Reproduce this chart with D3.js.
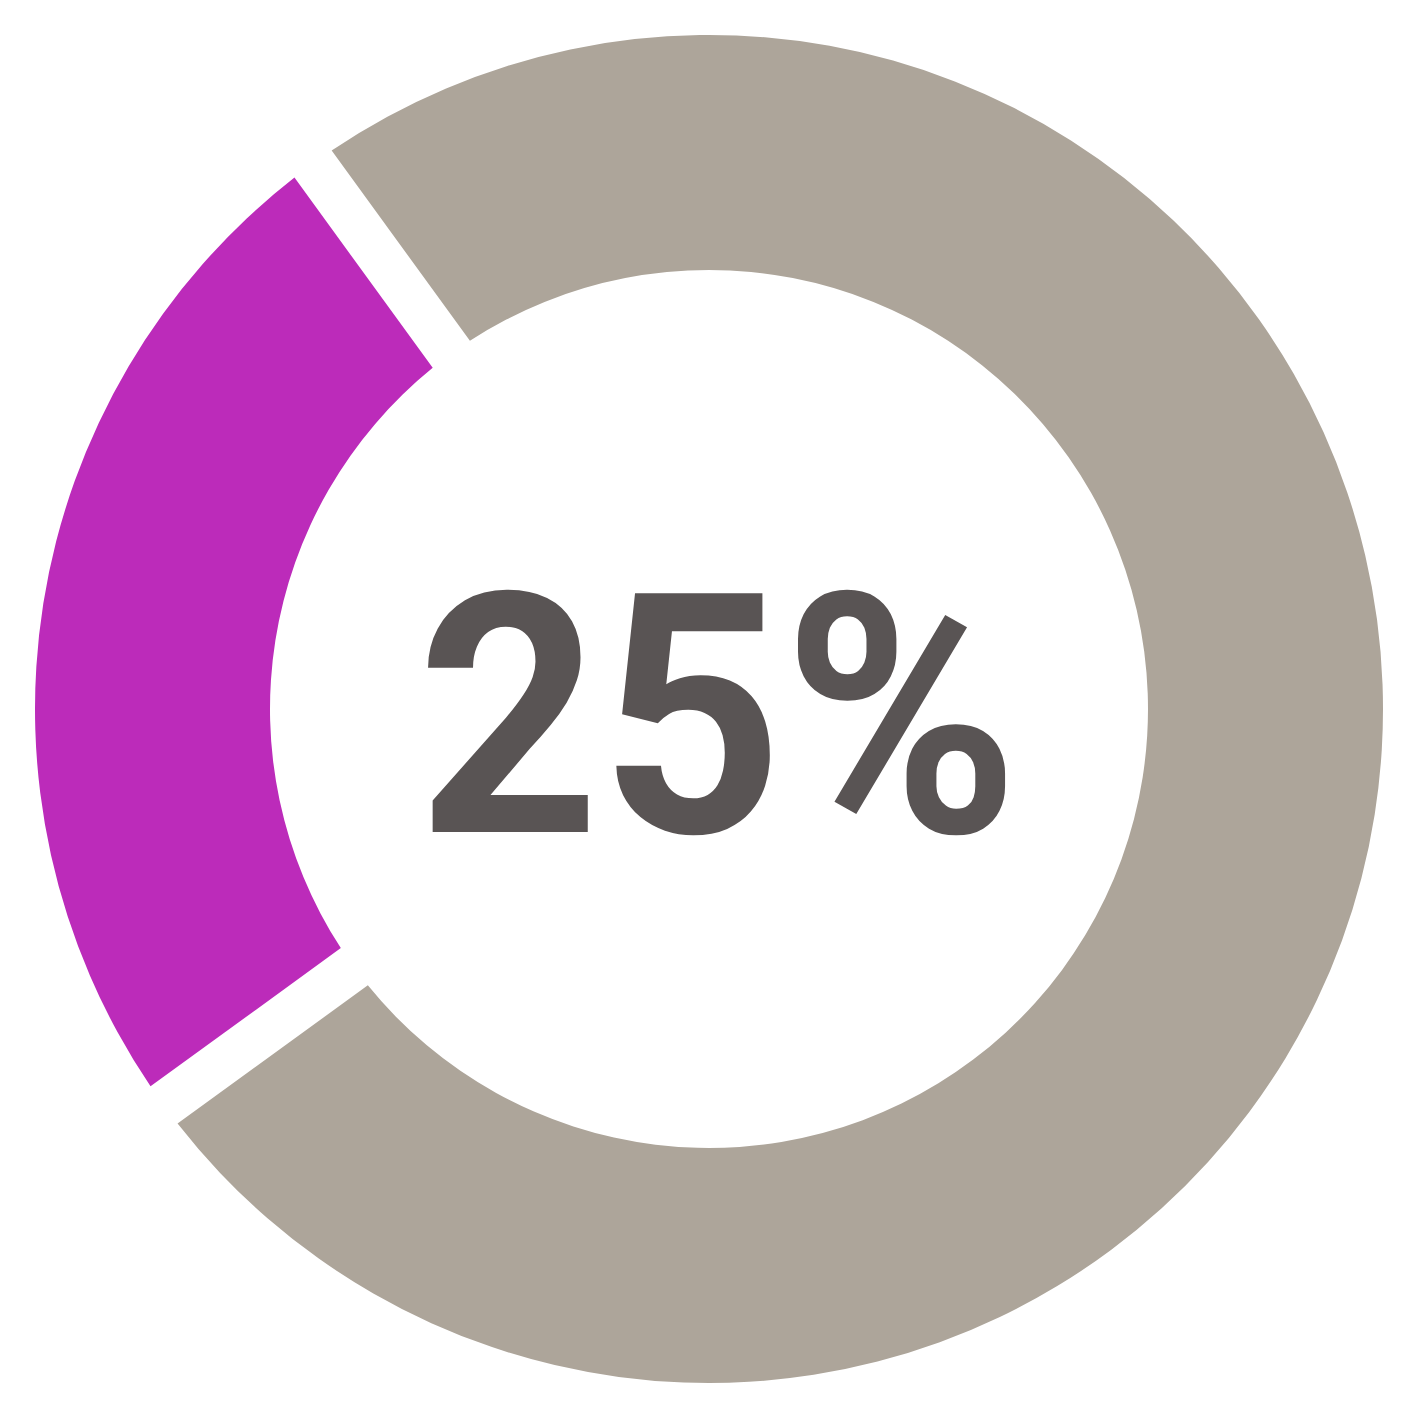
<!DOCTYPE html>
<html lang="en">
<head>
  <meta charset="UTF-8">
  <title>Donut 25%</title>
  <script src="https://d3js.org/d3.v7.min.js"></script>
  <style>
    body {
      margin: 0;
      background: #ffffff;
    }
    svg {
      display: block;
    }
  </style>
</head>
<body>

  <svg id="chart" width="1418" height="1417"></svg>

  <script>
    const labels = ["Share", "Rest"];
    const values = [25, 75];
    const colors = ["#bc2bba", "#ada59a"];
    const centerLabel = "25%";

    const svg = d3.select("#chart");
    const cx = 709, cy = 709;
    const outerR = 674, innerR = 439;

    // purple slice runs from ~234deg to ~324deg (clockwise from top)
    const start = 234 * Math.PI / 180;

    const pie = d3.pie()
      .sort(null)
      .value(d => d)
      .startAngle(start)
      .endAngle(start + 2 * Math.PI);

    // gap is a constant ~46px wide band, so pad only on the arc
    const arc = d3.arc()
      .innerRadius(innerR)
      .outerRadius(outerR)
      .padRadius(560)
      .padAngle(46 / 560);

    const g = svg.append("g")
      .attr("transform", `translate(${cx},${cy})`);

    g.selectAll("path.slice")
      .data(pie(values))
      .enter().append("path")
      .attr("class", "slice")
      .attr("d", arc)
      .attr("fill", (d, i) => colors[i]);

    g.append("text")
      .attr("x", 9)
      .attr("y", 123)
      .attr("text-anchor", "middle")
      .attr("textLength", 602)
      .attr("lengthAdjust", "spacingAndGlyphs")
      .style("font-family", "Roboto, 'DejaVu Sans Condensed', sans-serif")
      .style("font-weight", "bold")
      .style("font-size", "336px")
      .style("fill", "#595454")
      .text(centerLabel);
  </script>
</body>
</html>
